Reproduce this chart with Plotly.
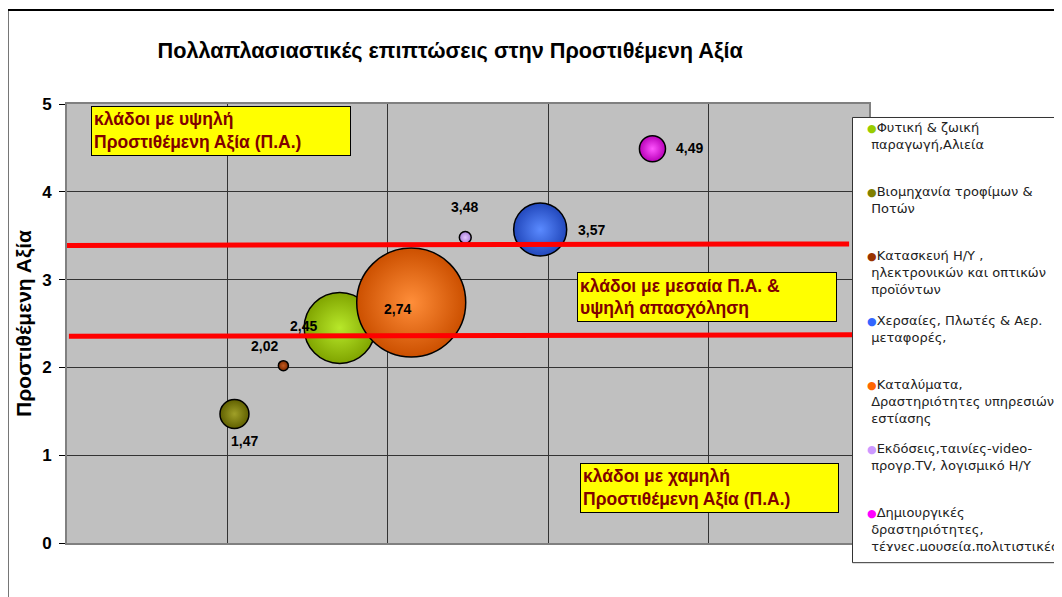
import plotly.graph_objects as go

# ---- data ----
sectors = [
    "Φυτική & ζωική<br>παραγωγή,Αλιεία",
    "Βιομηχανία τροφίμων &<br>Ποτών",
    "Κατασκευή Η/Υ ,<br>ηλεκτρονικών και οπτικών<br>προϊόντων",
    "Χερσαίες, Πλωτές & Αερ.<br>μεταφορές,",
    "Καταλύματα,<br>Δραστηριότητες υπηρεσιών<br>εστίασης",
    "Εκδόσεις,ταινίες-video-<br>προγρ.TV, λογισμικό Η/Υ",
    "Δημιουργικές<br>δραστηριότητες,<br>τέχνες,μουσεία,πολιτιστικές",
]
employment_mult = [1.70, 1.044, 1.349, 2.95, 2.146, 2.483, 3.65]   # x (hidden axis)
value_added_mult = [2.45, 1.47, 2.02, 3.57, 2.74, 3.48, 4.49]      # y
bubble_size = [50.4, 8.4, 1.0, 28.1, 118.8, 1.4, 6.8]              # bubble area

# red threshold lines: (x0, x1, y0, y1)
thresholds = [(0.0, 4.876, 3.389, 3.406), (0.012, 4.907, 2.354, 2.371)]

y_ticks = [0, 1, 2, 3, 4, 5]
title_text = "Πολλαπλασιαστικές επιπτώσεις στην Προστιθέμενη Αξία"
y_title = "Προστιθέμενη Αξία"
box_texts = [
    "κλάδοι με υψηλή<br>Προστιθέμενη Αξία (Π.Α.)",
    "κλάδοι με μεσαία Π.Α. &<br>υψηλή απασχόληση",
    "κλάδοι με χαμηλή<br>Προστιθέμενη Αξία (Π.Α.)",
]

# ---- styles ----
center_colors = ["#B8E82A", "#A0A028", "#C45A20", "#5A8AFF", "#FF8E3A", "#E4C6FF", "#FF55FF"]
edge_colors = ["#80A400", "#606000", "#7C2A00", "#2248BC", "#CC5000", "#A880D8", "#B800B8"]
legend_dot = ["#99CC00", "#808000", "#993300", "#3366FF", "#FF6600", "#CC99FF", "#FF00FF"]
label_offsets = [(-36, 2), (10, -27), (-19, 20), (51, 0), (-14, -7), (-1, 30), (37, 1)]
# text boxes: (left px, top px, width px) in target coordinates
box_pos = [(91, 106, 260), (577, 272, 260), (580, 463, 259)]

W, H = 1062, 597
OFF = 8  # page body margin
L, R, T, B = 66.5, 869, 104, 543.3  # plot area in target pixel coords

fig = go.Figure()
sizeref = 2.0 * max(bubble_size) / (109 ** 2)

for i, name in enumerate(sectors):
    fig.add_trace(go.Scatter(
        x=[employment_mult[i]], y=[value_added_mult[i]], mode="markers",
        marker=dict(size=[bubble_size[i]], sizemode="area", sizeref=sizeref,
                    color=edge_colors[i], opacity=1,
                    gradient=dict(type="radial", color=center_colors[i]),
                    line=dict(color="black", width=1.5)),
        showlegend=False, legendgroup=str(i), hoverinfo="skip"))

for i, name in enumerate(sectors):
    lines = name.split("<br>")
    first = (f"<span style='color:{legend_dot[i]};font-size:11px'>●</span>"
             + lines[0])
    rest = ["\u00a0" + ln for ln in lines[1:]]
    rest += ["\u00a0"] * (2 - len(rest))
    fig.add_trace(go.Scatter(
        x=[None], y=[None], mode="markers", name="<br>".join([first] + rest),
        marker=dict(size=1, color="rgba(0,0,0,0)"),
        showlegend=True, legendgroup=str(i)))


def px(xp):
    return (xp - L) / (R - L)


def py(yp):
    return (B - yp) / (B - T)


shapes = []
for (x0, x1, y0, y1) in thresholds:
    shapes.append(dict(type="line", xref="x", yref="y", x0=x0, x1=x1, y0=y0, y1=y1,
                       line=dict(color="#FF0000", width=5), layer="above"))

# legend box
shapes.append(dict(type="rect", xref="paper", yref="paper",
                   x0=px(852.5), x1=px(1080), y0=py(563), y1=py(117.5),
                   fillcolor="white", line=dict(color="#333333", width=1), layer="above"))
# outer chart border
shapes.append(dict(type="rect", xref="paper", yref="paper",
                   x0=px(7), x1=px(1080), y0=py(620), y1=py(10),
                   line=dict(color="black", width=2), layer="below"))

annotations = []
for i in range(len(sectors)):
    dx, dy = label_offsets[i]
    annotations.append(dict(
        x=employment_mult[i], y=value_added_mult[i], xref="x", yref="y",
        text=f"{value_added_mult[i]:.2f}".replace(".", ","), showarrow=False,
        xshift=dx, yshift=dy,
        font=dict(family="Liberation Sans, Arial", size=14, color="black", weight="bold")))

for (bl, bt, bw), t in zip(box_pos, box_texts):
    annotations.append(dict(
        x=px(bl), y=py(bt), xref="paper", yref="paper", xanchor="left", yanchor="top",
        text=f"<b>{t}</b>", showarrow=False, align="left", width=bw - 6, height=44,
        valign="middle",
        bgcolor="#FFFF00", bordercolor="black", borderwidth=1, borderpad=2,
        font=dict(family="Liberation Sans, Arial", size=17.5, color="#800000")))

fig.update_layout(
    width=W, height=H,
    margin=dict(l=L - OFF, r=W - (R - OFF), t=T - OFF, b=H - (B - OFF), autoexpand=False),
    paper_bgcolor="white", plot_bgcolor="#C0C0C0",
    title=dict(text=f"<b>{title_text}</b>", x=px(450), xref="paper", xanchor="center",
               y=1 - (50 - OFF) / H, yanchor="middle", yref="container",
               font=dict(family="Liberation Sans, Arial", size=21.7, color="black")),
    xaxis=dict(range=[0, 5], dtick=1, showticklabels=False, showgrid=True,
               gridcolor="#333333", gridwidth=1, zeroline=False,
               showline=True, linecolor="#808080", linewidth=2, mirror=True, ticks=""),
    yaxis=dict(range=[0, 5], tickvals=y_ticks, showgrid=True, gridcolor="#333333",
               gridwidth=1, zeroline=False, showline=True, linecolor="#808080",
               linewidth=2, mirror=True, ticks="outside", ticklen=6, tickcolor="black",
               ticklabelstandoff=4,
               tickfont=dict(family="Liberation Sans, Arial", size=17, color="black",
                             weight="bold"),
               title=dict(text=f"<b>{y_title}</b>", standoff=5,
                          font=dict(family="Liberation Sans, Arial", size=21,
                                    color="black"))),
    legend=dict(x=px(827), y=py(112), xanchor="left", yanchor="top",
                bgcolor="rgba(0,0,0,0)", borderwidth=0,
                font=dict(family="DejaVu Sans", size=13, color="#222222"),
                valign="top", tracegroupgap=10.5, traceorder="grouped"),
    shapes=shapes, annotations=annotations,
)

fig.write_html("out.html")
